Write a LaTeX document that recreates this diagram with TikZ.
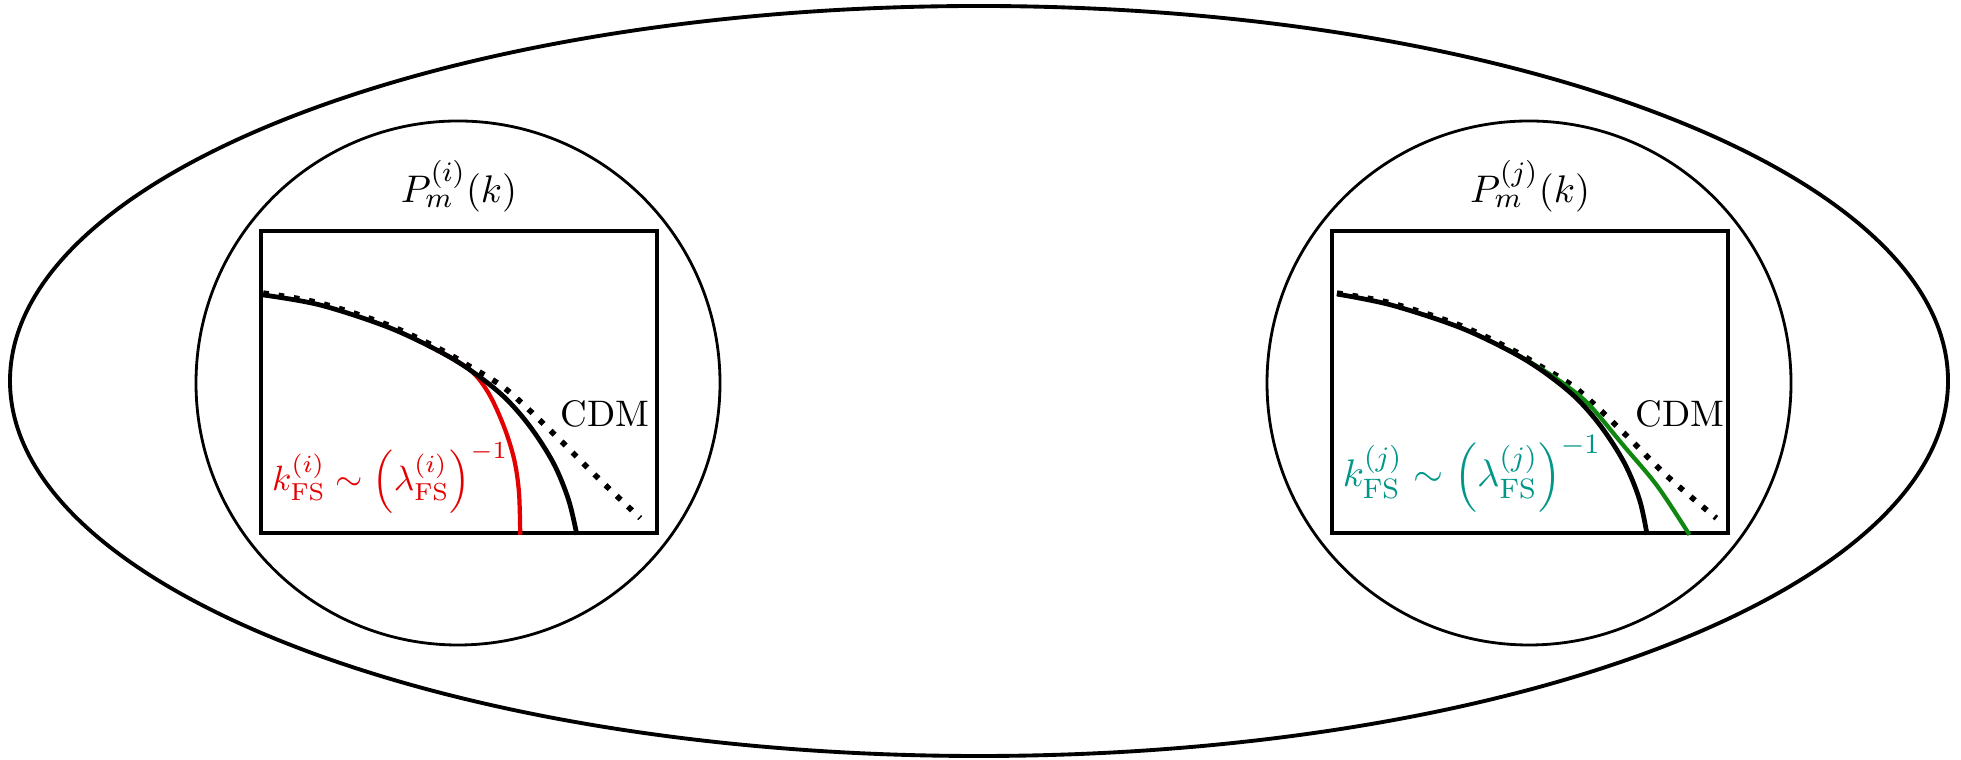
\documentclass[tikz,border=0pt]{standalone}
\usepackage{amsmath}
\usepackage{tikz}
\usetikzlibrary{positioning}
\usetikzlibrary{calc}
\usetikzlibrary{shapes.geometric}

\definecolor{fsred}{RGB}{228,0,0}
\definecolor{fsteal}{RGB}{0,150,136}
\definecolor{fsgreen}{RGB}{16,135,16}

\begin{document}
\begin{tikzpicture}[
  universe/.style={
      draw,
      ellipse,
      line width=1.1pt,
      minimum width=19.38cm,
      minimum height=7.5cm
  },
  bubble/.style={
      draw,
      circle,
      line width=0.8pt,
      minimum size=5.24cm
  },
  panel/.style={
      draw,
      line width=1pt,
      minimum width=3.96cm,
      minimum height=3.02cm
  },
  lab/.style={font=\fontsize{11}{13}\selectfont},
  cdm/.style={line width=1.6pt, dash pattern=on 1.6pt off 2.8pt},
  pk/.style={line width=1.35pt},
  cut/.style={line width=1.2pt}
]
\useasboundingbox (0,0) rectangle (19.61,7.6);

\node[universe] (uni) at (9.79,3.79) {};

\node[bubble] (bubi) at (4.58,3.77) {};
\node[bubble] (bubj) at (15.29,3.77) {};

\node[panel] (boxi) at (4.59,3.78) {};
\node[panel] (boxj) at (15.30,3.78) {};

\node[lab, above=0.05cm of boxi] (pmi) {$P_m^{(i)}(k)$};
\node[lab, above=0.05cm of boxj] (pmj) {$P_m^{(j)}(k)$};

% left universe: colder cutoff
\begin{scope}[shift={(boxi.south west)}, x=3.96cm, y=3.02cm]
\draw[cdm] plot[smooth, tension=0.55] coordinates
  {(0.010,0.80) (0.153,0.767) (0.322,0.696) (0.448,0.62) (0.528,0.56) (0.625,0.48) (0.743,0.335) (0.85,0.195) (0.962,0.055)};
\draw[cut, fsred] plot[smooth, tension=0.55] coordinates
  {(0.448,0.612) (0.532,0.546) (0.579,0.469) (0.618,0.358) (0.644,0.248) (0.656,0.138) (0.659,0.0)};
\draw[pk] plot[smooth, tension=0.55] coordinates
  {(0.010,0.794) (0.153,0.761) (0.322,0.689) (0.448,0.612) (0.532,0.546) (0.617,0.458) (0.684,0.358) (0.743,0.237) (0.781,0.116) (0.802,0.0)};
\node[font=\fontsize{10.5}{13}\selectfont, anchor=base east, inner sep=0] (cdmi) at (0.987,0.358) {CDM};
\node[font=\fontsize{10}{12}\selectfont, text=fsred, anchor=base west, inner sep=0] (kfsi) at (0.031,0.146)
  {$k_{\mathrm{FS}}^{(i)}\sim\left(\lambda_{\mathrm{FS}}^{(i)}\right)^{-1}$};
\end{scope}

% right universe: warmer cutoff
\begin{scope}[shift={(boxj.south west)}, x=3.96cm, y=3.02cm]
\draw[cdm] plot[smooth, tension=0.55] coordinates
  {(0.017,0.80) (0.153,0.767) (0.322,0.696) (0.448,0.62) (0.528,0.56) (0.625,0.48) (0.743,0.335) (0.85,0.195) (0.975,0.055)};
\draw[cut, fsgreen] plot[smooth, tension=0.55] coordinates
  {(0.448,0.614) (0.532,0.550) (0.60,0.49) (0.657,0.426) (0.742,0.293) (0.826,0.161) (0.907,0.0)};
\draw[pk] plot[smooth, tension=0.55] coordinates
  {(0.017,0.797) (0.153,0.761) (0.322,0.689) (0.448,0.612) (0.532,0.546) (0.617,0.458) (0.684,0.358) (0.743,0.237) (0.781,0.116) (0.80,0.0)};
\node[font=\fontsize{10.5}{13}\selectfont, anchor=base east, inner sep=0] (cdmj) at (0.997,0.36) {CDM};
\node[lab, text=fsteal, anchor=base west, inner sep=0] (kfsj) at (0.03,0.159)
  {$k_{\mathrm{FS}}^{(j)}\sim\left(\lambda_{\mathrm{FS}}^{(j)}\right)^{-1}$};
\end{scope}

\end{tikzpicture}
\end{document}
